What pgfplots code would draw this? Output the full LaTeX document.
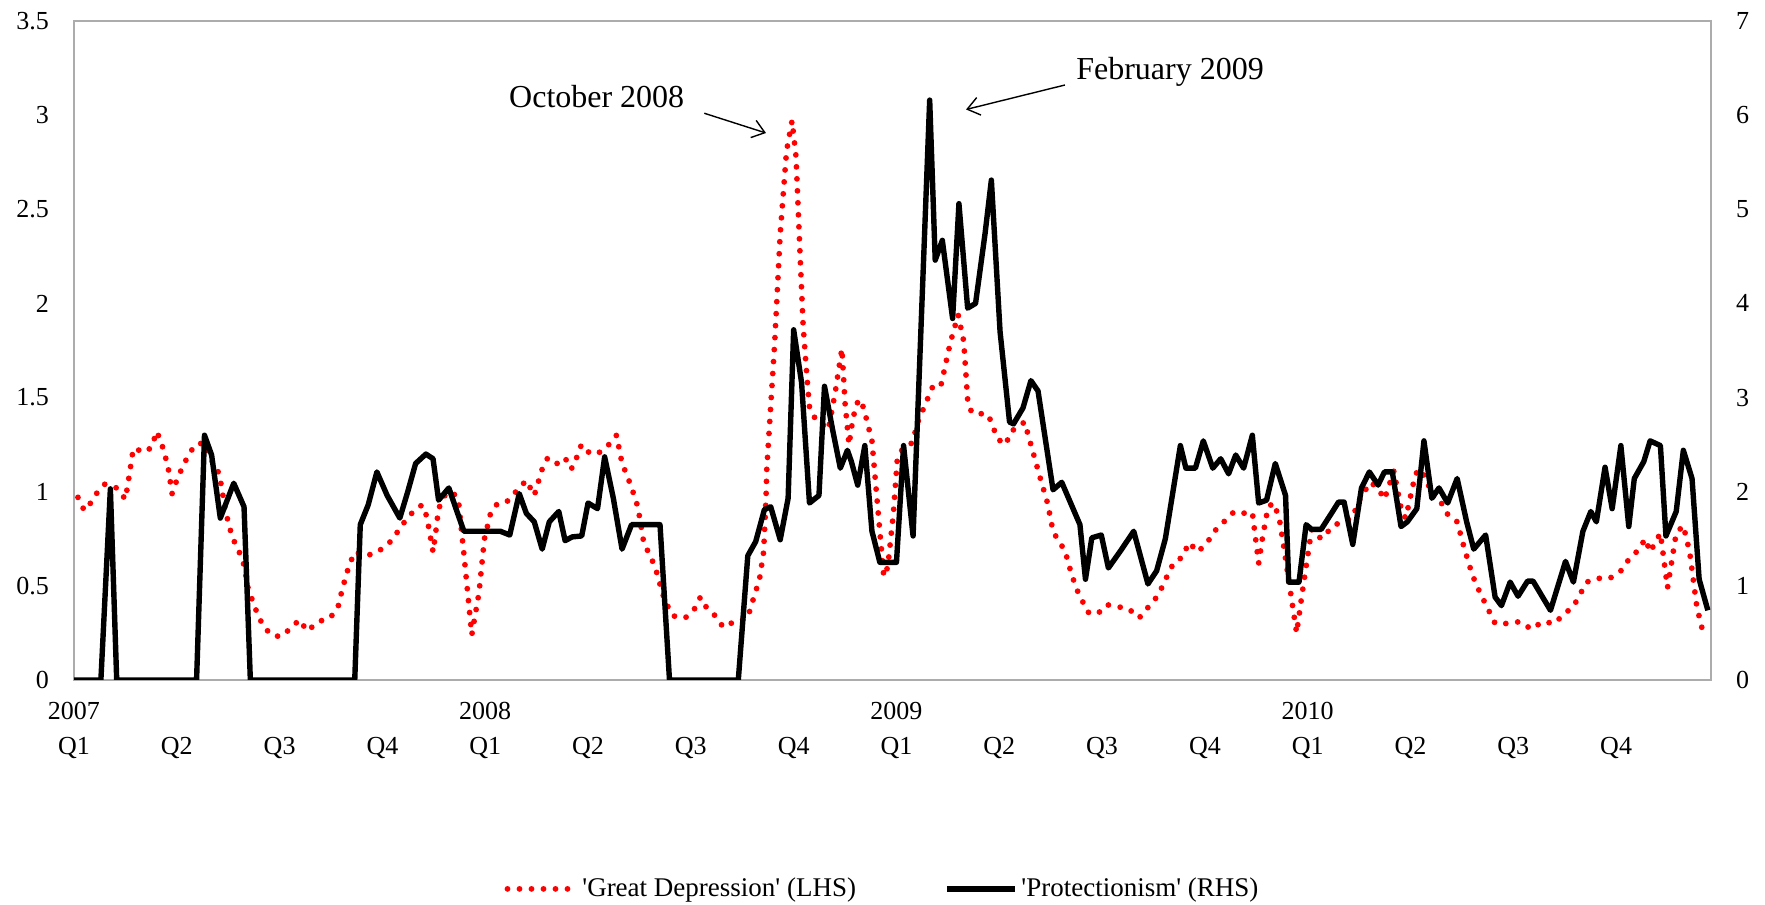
\documentclass[border=0pt]{standalone}
\usepackage{fontspec}
\setmainfont{Liberation Serif}
\usepackage{pgfplots}
\pgfplotsset{compat=1.18}
\usetikzlibrary{arrows.meta}

\begin{document}
\begin{tikzpicture}
\useasboundingbox (0,0) rectangle (882.5pt,452pt);
\begin{axis}[
  at={(37pt,112pt)}, anchor=south west,
  scale only axis, width=818.5pt, height=329.5pt,
  xmin=0, xmax=207, ymin=0, ymax=3.5,
  axis line style={draw=gray!65, line width=0.9pt},
  major tick length=0pt,
  ytick={0,0.5,1,1.5,2,2.5,3,3.5},
  xtick={0,13,26,39,52,65,78,91,104,117,130,143,156,169,182,195},
  xticklabels={{\strut 2007\\\strut Q1},{\strut\\\strut Q2},{\strut\\\strut Q3},{\strut\\\strut Q4},
               {\strut 2008\\\strut Q1},{\strut\\\strut Q2},{\strut\\\strut Q3},{\strut\\\strut Q4},
               {\strut 2009\\\strut Q1},{\strut\\\strut Q2},{\strut\\\strut Q3},{\strut\\\strut Q4},
               {\strut 2010\\\strut Q1},{\strut\\\strut Q2},{\strut\\\strut Q3},{\strut\\\strut Q4}},
  xticklabel style={align=center, font=\fontsize{13}{17.5}\selectfont, yshift=-4pt},
  yticklabel style={font=\fontsize{13}{15}\selectfont, xshift=-9pt},
  /pgf/number format/assume math mode=true,
  legend style={at={(0.4945,-0.317)}, anchor=center, draw=none, fill=none,
    legend columns=2, font=\fontsize{13.5}{16}\selectfont,
    /tikz/every even column/.append style={column sep=42pt}},
  legend image code/.code={\draw[#1] (0pt,0pt) -- (34pt,0pt);},
]
\addplot[red, line width=2.9pt, line cap=round, dash pattern=on 0pt off 6pt, line join=round] coordinates {
(0.5,0.97) (1.3,0.90) (2.1,0.94) (3,1.0) (3.9,1.04) (5.4,1.02) (6.5,0.96) (7,1.09) (7.5,1.23) (9,1.21)
(9.9,1.24) (10.4,1.32) (10.9,1.28) (11.4,1.21) (11.9,1.13) (12.4,0.99) (12.8,1.04) (13.6,1.12) (14.3,1.18)
(15.3,1.25) (16.5,1.26) (17.2,1.18) (18.2,1.11) (18.6,1.04) (19.1,0.91) (19.6,0.82) (20.1,0.75) (20.8,0.69)
(21.5,0.61) (22,0.49) (22.5,0.43) (23.2,0.35) (23.9,0.29) (24.9,0.24) (26.1,0.23) (27.3,0.27) (28.5,0.32)
(29.5,0.26) (30.9,0.31) (32.4,0.33) (33.4,0.39) (33.8,0.46) (34.3,0.54) (34.8,0.61) (35.5,0.68) (37,0.66)
(38.4,0.68) (39.9,0.73) (40.8,0.78) (41.8,0.84) (42.8,0.89) (44,0.93) (44.6,0.87) (44.9,0.80) (45.4,0.68)
(45.7,0.77) (46.1,0.91) (46.9,0.98) (47.8,1.0) (48.6,0.96) (49.3,0.67) (50.3,0.24) (51.2,0.46) (51.9,0.75)
(52.7,0.89) (53.6,0.94) (54.8,0.95) (56.3,1.02) (57.2,1.06) (58.2,0.98) (59.2,1.12) (59.9,1.18) (61.1,1.15)
(62.1,1.18) (62.8,1.12) (63.3,1.14) (63.8,1.22) (64.2,1.25) (65.3,1.2) (66.5,1.21) (67.9,1.26) (68.6,1.30)
(69.3,1.15) (70,1.08) (70.5,1.02) (71.1,0.95) (71.5,0.87) (72,0.74) (72.7,0.67) (73.4,0.61) (73.9,0.54)
(74.4,0.46) (75.1,0.39) (75.8,0.34) (77.3,0.33) (78.5,0.38) (79.2,0.44) (79.9,0.39) (81.1,0.34) (82.1,0.28)
(83.5,0.31) (84.5,0.32) (85.2,0.33) (85.6,0.39) (86.2,0.47) (86.7,0.54) (87.2,0.68) (87.5,0.96) (87.6,1.12)
(88.6,1.79) (89.3,2.37) (90.1,2.81) (90.8,2.97) (91.3,2.78) (91.8,2.27) (92.2,1.88) (92.7,1.60) (93,1.45)
(93.7,1.39) (95.4,1.33) (96.3,1.54) (97.1,1.76) (97.5,1.47) (98,1.25) (98.5,1.39) (99,1.47) (99.5,1.49)
(100,1.42) (100.9,1.27) (101.5,0.98) (102.4,0.55) (102.9,0.60) (103.6,0.88) (104.1,1.17) (104.8,1.23)
(106,1.26) (106.7,1.37) (107.9,1.49) (108.6,1.56) (109.6,1.56) (110.8,1.79) (111.8,1.94) (112.5,1.80)
(113,1.49) (113.5,1.42) (115.6,1.41) (116.8,1.28) (117.8,1.25) (118.5,1.32) (120.2,1.37) (121.2,1.22)
(122.2,1.07) (123.1,0.94) (123.8,0.79) (124.6,0.73) (125.3,0.69) (125.8,0.61) (126.7,0.49) (127.5,0.42)
(128.2,0.36) (129.4,0.35) (130.6,0.40) (131.8,0.39) (133.3,0.38) (134.7,0.33) (135.9,0.39) (136.9,0.44)
(137.8,0.51) (138.5,0.58) (139.2,0.63) (140.1,0.65) (141,0.73) (142.1,0.68) (143.3,0.73) (144.2,0.79)
(145.4,0.84) (146.6,0.89) (147.4,0.88) (148.3,0.89) (149,0.89) (149.8,0.62) (150.3,0.76) (151,0.92)
(151.7,0.94) (152.4,0.86) (153,0.70) (154.6,0.25) (155.3,0.46) (156.5,0.80) (157.7,0.75) (158.2,0.77)
(159.2,0.82) (160.4,0.84) (161.6,0.86) (162.8,0.98) (164,1.05) (165,1.01) (165.7,0.96) (166.9,1.11)
(167.9,0.89) (168.4,0.86) (169.6,1.09) (170.1,1.12) (171,1.07) (171.7,0.98) (172.5,0.97) (173.7,0.88)
(174.9,0.84) (175.8,0.70) (176.8,0.56) (177.5,0.49) (178.3,0.42) (179.7,0.30) (181.4,0.30) (182.8,0.31)
(184.3,0.27) (185.7,0.31) (187.2,0.30) (188.4,0.35) (189.6,0.39) (190.5,0.46) (191.3,0.52) (192.5,0.54)
(194.2,0.54) (195.6,0.58) (196.6,0.64) (197.8,0.69) (198.7,0.75) (199.3,0.68) (200.6,0.78) (201.5,0.49)
(202.6,0.78) (203.5,0.82) (204.3,0.68) (205.2,0.39) (206,0.25)
};
\addlegendentry{\textquotesingle Great Depression\textquotesingle\ (LHS)}
\addlegendimage{black, line width=2.7pt}
\addlegendentry{\textquotesingle Protectionism\textquotesingle\ (RHS)}

\node[font=\fontsize{16}{18}\selectfont] at (axis cs:66.1,3.10) {October 2008};
\draw[line width=0.7pt, -{Straight Barb[length=6pt,width=9pt]}] (axis cs:79.7,3.01) -- (axis cs:87.5,2.905);
\node[font=\fontsize{16}{18}\selectfont] at (axis cs:138.6,3.23) {February 2009};
\draw[line width=0.7pt, -{Straight Barb[length=6pt,width=9pt]}] (axis cs:125.3,3.16) -- (axis cs:112.8,3.03);
\end{axis}

\begin{axis}[
  at={(37pt,112pt)}, anchor=south west,
  scale only axis, width=818.5pt, height=329.5pt,
  xmin=0, xmax=207, ymin=0, ymax=7,
  axis x line=none, axis y line*=right,
  axis line style={draw=gray!65, line width=0.9pt},
  major tick length=0pt,
  ytick={0,1,2,3,4,5,6,7},
  yticklabel style={font=\fontsize{13}{15}\selectfont, xshift=9pt},
  /pgf/number format/assume math mode=true,
]
\addplot[black, line width=2.7pt, line join=round] coordinates {
(0,0) (3.4,0) (4.6,2.03) (5.4,0) (15.5,0) (16.5,2.6) (17.4,2.39) (18.5,1.72) (20.2,2.09) (21.5,1.84) (22.3,0)
(35.5,0) (36.2,1.65) (37.2,1.86) (38.3,2.21) (39.6,1.96) (41.2,1.72) (42.2,2.0) (43.2,2.30) (44.5,2.40)
(45.4,2.35) (46.1,1.91) (47.4,2.04) (48.3,1.82) (49.3,1.58) (53.9,1.58) (55.1,1.54) (56.3,1.98) (57.2,1.77)
(58.2,1.68) (59.2,1.39) (60.1,1.68) (61.3,1.79) (62.1,1.48) (63,1.52) (64.2,1.53) (65,1.88) (66.2,1.82)
(67.1,2.37) (68.2,1.93) (69.3,1.39) (70.5,1.65) (74.1,1.65) (75.3,0) (84,0) (85.2,1.32) (86.2,1.47)
(87.3,1.81) (88.1,1.84) (89.3,1.49) (90.3,1.93) (91,3.72) (92,3.16) (93,1.88) (94.2,1.96) (94.9,3.12)
(95.9,2.67) (96.9,2.25) (97.8,2.44) (98.3,2.32) (99.1,2.07) (100,2.49) (100.9,1.58) (101.9,1.25) (104,1.25)
(104.9,2.49) (106.1,1.53) (108.2,6.16) (108.9,4.46) (109.8,4.67) (111.1,3.84) (111.9,5.06) (113,3.95)
(114,4.0) (115.2,4.74) (116,5.31) (117.1,3.7) (118.3,2.74) (118.8,2.72) (120,2.89) (121,3.18) (121.9,3.07)
(123.8,2.02) (124.9,2.1) (127.2,1.65) (127.9,1.07) (128.7,1.51) (129.9,1.54) (130.8,1.19) (132.4,1.38)
(134,1.58) (135.8,1.02) (136.9,1.16) (138,1.5) (139.9,2.49) (140.6,2.25) (141.8,2.25) (142.8,2.54)
(144,2.25) (145,2.35) (146,2.19) (146.9,2.39) (147.9,2.25) (149,2.6) (149.8,1.88) (150.8,1.91) (151.9,2.3)
(153.2,1.96) (153.6,1.04) (154.9,1.04) (155.8,1.65) (156.5,1.6) (157.7,1.6) (159,1.77) (159.9,1.89)
(160.6,1.89) (161.7,1.44) (162.8,2.04) (163.8,2.21) (164.9,2.07) (165.7,2.21) (166.7,2.21) (167.8,1.63)
(168.6,1.68) (169.8,1.82) (170.7,2.54) (171.7,1.93) (172.6,2.04) (173.7,1.88) (174.9,2.14) (176.1,1.68)
(177,1.39) (178.5,1.54) (179.7,0.88) (180.5,0.79) (181.6,1.04) (182.6,0.89) (183.8,1.05) (184.5,1.05)
(186.7,0.74) (188.6,1.26) (189.6,1.04) (190.8,1.58) (191.8,1.79) (192.5,1.68) (193.6,2.26) (194.5,1.82)
(195.6,2.49) (196.6,1.63) (197.3,2.14) (198.5,2.32) (199.3,2.54) (200.6,2.49) (201.3,1.53) (202.6,1.79)
(203.5,2.44) (204.6,2.14) (205.5,1.07) (206.6,0.74)
};
\end{axis}
\end{tikzpicture}
\end{document}
